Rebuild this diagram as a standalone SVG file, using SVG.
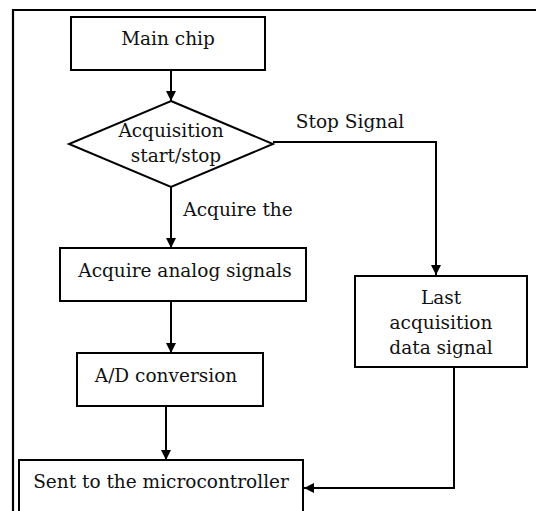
<svg xmlns="http://www.w3.org/2000/svg" width="536" height="511" viewBox="0 0 536 511">
<style>
.box{fill:#fff;stroke:#000;stroke-width:2}
.t{font-family:"DejaVu Serif","Liberation Serif",serif;font-size:18.5px;fill:#111;text-anchor:middle}
.c{fill:none;stroke:#000;stroke-width:2}
</style>
<defs>
<marker id="ah" viewBox="0 0 10 10" refX="10" refY="5" markerWidth="10" markerHeight="10" markerUnits="userSpaceOnUse" orient="auto">
<path d="M0,0 L10,5 L0,10 Z" fill="#000"/>
</marker>
</defs>
<rect x="0" y="0" width="536" height="511" fill="#fff"/>
<path d="M13,520 V10 H540" fill="none" stroke="#000" stroke-width="2.2"/>
<g id="connectors">
<path class="c" d="M171,70 V101" marker-end="url(#ah)"/>
<path class="c" d="M273,142 H436 V275" marker-end="url(#ah)"/>
<path class="c" d="M171,187 V248" marker-end="url(#ah)"/>
<path class="c" d="M171,301 V353" marker-end="url(#ah)"/>
<path class="c" d="M166,406 V460" marker-end="url(#ah)"/>
<path class="c" d="M454,368 V488 H304" marker-end="url(#ah)"/>
<text class="t" x="350" y="128">Stop Signal</text>
<text class="t" x="238" y="216">Acquire the</text>
</g>
<g id="main-chip">
<rect class="box" x="71" y="17" width="194" height="53"/>
<text class="t" x="168" y="45">Main chip</text>
</g>
<g id="acq-start-stop">
<polygon class="box" points="171,101 273,144 171,187 69,144"/>
<text class="t" x="171" y="137">Acquisition</text>
<text class="t" x="176" y="162">start/stop</text>
</g>
<g id="acquire-analog">
<rect class="box" x="60" y="248" width="246" height="53"/>
<text class="t" x="185" y="277">Acquire analog signals</text>
</g>
<g id="ad-conversion">
<rect class="box" x="77" y="353" width="186" height="53"/>
<text class="t" x="166" y="382">A/D conversion</text>
</g>
<g id="sent-mcu">
<rect class="box" x="19" y="460" width="284" height="70"/>
<text class="t" x="161" y="488">Sent to the microcontroller</text>
</g>
<g id="last-acq">
<rect class="box" x="355" y="276" width="172" height="91"/>
<text class="t" x="441" y="304">Last</text>
<text class="t" x="441" y="329">acquisition</text>
<text class="t" x="441" y="354">data signal</text>
</g>
</svg>
